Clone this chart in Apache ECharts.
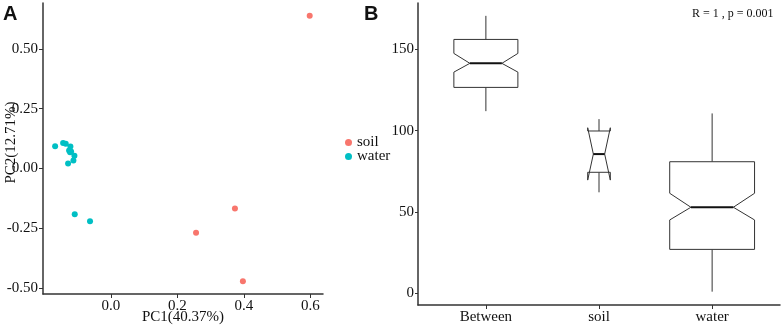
<!DOCTYPE html>
<html>
<head>
<meta charset="utf-8">
<script src="https://cdn.jsdelivr.net/npm/echarts@6/dist/echarts.min.js"></script>
<style>
html, body { margin: 0; padding: 0; background: #fff; }
#main { width: 782px; height: 326px; }
</style>
</head>
<body>
<div id="main"></div>
<script>
// panel A: PCoA scores
var soilPC1 = [0.598, 0.373, 0.397, 0.256];
var soilPC2 = [0.639, -0.167, -0.472, -0.269];
var waterPC1 = [-0.168, -0.144, -0.136, -0.122, -0.126, -0.123, -0.120, -0.110, -0.113, -0.129, -0.109, -0.063];
var waterPC2 = [0.093, 0.107, 0.103, 0.092, 0.075, 0.068, 0.071, 0.053, 0.033, 0.021, -0.191, -0.221];
var pcXTicks = [0.0, 0.2, 0.4, 0.6];
var pcYTicks = [-0.50, -0.25, 0.00, 0.25, 0.50];

// panel B: ANOSIM distance ranks, notched boxes
var groups = ['Between', 'soil', 'water'];
var whiskerLow = [112.0, 62.1, 1.0];
var hingeLow = [126.6, 74.4, 27.0];
var notchLow = [136.0, 69.6, 45.1];
var median = [141.4, 85.6, 52.9];
var notchHigh = [147.5, 101.8, 61.5];
var hingeHigh = [156.1, 99.8, 80.9];
var whiskerHigh = [170.6, 107.1, 110.6];
var rankTicks = [0, 50, 100, 150];

var boxWidth = [0.566, 0.2, 0.75];
var serif = 'Liberation Serif';
var lineCol = '#333';

var toXY = function (xs, ys) {
  return xs.map(function (x, i) { return [x, ys[i]]; });
};

var boxData = groups.map(function (g, i) {
  return [i + 1, whiskerLow[i], hingeLow[i], notchLow[i], median[i], notchHigh[i], hingeHigh[i], whiskerHigh[i]];
});

var axisCommon = {
  axisLine: { show: true, onZero: false, lineStyle: { color: lineCol, width: 1.5 } },
  axisTick: { show: true, length: 4, lineStyle: { color: lineCol, width: 1 } },
  splitLine: { show: false }
};
var labelFont = { fontFamily: serif, fontSize: 15, color: '#111' };

var chart = echarts.init(document.getElementById('main'));
chart.setOption({
  animation: false,
  grid: [
    { left: 43, top: 3, width: 280, height: 291, containLabel: false, outerBoundsMode: 'none' },
    { left: 418, top: 3, width: 362, height: 302, containLabel: false, outerBoundsMode: 'none' }
  ],
  legend: {
    data: ['soil', 'water'],
    orient: 'vertical',
    left: 340,
    top: 130,
    icon: 'circle',
    itemWidth: 7,
    itemHeight: 7,
    itemGap: -1,
    textStyle: labelFont
  },
  xAxis: [
    Object.assign({
      gridIndex: 0, type: 'value', min: -0.2045, max: 0.638,
      name: 'PC1(40.37%)', nameLocation: 'middle', nameGap: 16, nameMoveOverlap: false,
      nameTextStyle: labelFont,
      axisLabel: Object.assign({
        customValues: pcXTicks, margin: 5,
        formatter: function (v) { return v.toFixed(1); }
      }, labelFont)
    }, axisCommon, { axisTick: Object.assign({ customValues: pcXTicks }, axisCommon.axisTick) }),
    Object.assign({
      gridIndex: 1, type: 'value', min: 0.4, max: 3.6,
      axisLabel: Object.assign({
        customValues: [1, 2, 3], margin: 5,
        formatter: function (v) { return groups[Math.round(v) - 1]; }
      }, labelFont)
    }, axisCommon, { axisTick: Object.assign({ customValues: [1, 2, 3] }, axisCommon.axisTick) })
  ],
  yAxis: [
    Object.assign({
      gridIndex: 0, type: 'value', min: -0.525, max: 0.692,
      name: 'PC2(12.71%)', nameLocation: 'middle', nameGap: 24, nameRotate: 90, nameMoveOverlap: false,
      nameTextStyle: Object.assign({ padding: [0, 0, 0, 12] }, labelFont),
      axisLabel: Object.assign({
        customValues: pcYTicks, margin: 5,
        formatter: function (v) { return v.toFixed(2); }
      }, labelFont)
    }, axisCommon, { axisTick: Object.assign({ customValues: pcYTicks }, axisCommon.axisTick) }),
    Object.assign({
      gridIndex: 1, type: 'value', min: -7.2, max: 178.5,
      axisLabel: Object.assign({ customValues: rankTicks, margin: 4 }, labelFont)
    }, axisCommon, { axisTick: Object.assign({ customValues: rankTicks }, axisCommon.axisTick, { length: 3 }) })
  ],
  graphic: [
    { type: 'text', left: 3, top: 4, style: { text: 'A', font: 'bold 20px "Liberation Sans"', fill: '#111' } },
    { type: 'text', left: 364, top: 4, style: { text: 'B', font: 'bold 20px "Liberation Sans"', fill: '#111' } },
    { type: 'text', left: 692, top: 8, style: { text: 'R = 1 , p = 0.001', font: '12px "Liberation Serif"', fill: '#111' } }
  ],
  series: [
    {
      name: 'soil', type: 'scatter', xAxisIndex: 0, yAxisIndex: 0,
      symbolSize: 6, itemStyle: { color: '#F8766D', opacity: 1 },
      data: toXY(soilPC1, soilPC2)
    },
    {
      name: 'water', type: 'scatter', xAxisIndex: 0, yAxisIndex: 0,
      symbolSize: 6, itemStyle: { color: '#00BFC4', opacity: 1 },
      data: toXY(waterPC1, waterPC2)
    },
    {
      type: 'custom', xAxisIndex: 1, yAxisIndex: 1,
      encode: { x: 0, y: [1, 7] },
      data: boxData,
      renderItem: function (params, api) {
        var i = params.dataIndex;
        var x = api.value(0);
        var hw = boxWidth[i] / 2, nw = hw / 2;
        var p = function (dx, v) { return api.coord([x + dx, v]); };
        var wl = api.value(1), hl = api.value(2), nl = api.value(3), md = api.value(4),
            nh = api.value(5), hh = api.value(6), wh = api.value(7);
        var poly = [p(-hw, hh), p(-hw, nh), p(-nw, md), p(-hw, nl), p(-hw, hl),
                    p(hw, hl), p(hw, nl), p(nw, md), p(hw, nh), p(hw, hh)];
        var stroke = { stroke: lineCol, lineWidth: 1, fill: null };
        var a = p(0, wh), b = p(0, hh), c = p(0, hl), d = p(0, wl);
        var m1 = p(-nw, md), m2 = p(nw, md);
        return {
          type: 'group',
          children: [
            { type: 'line', shape: { x1: a[0], y1: a[1], x2: b[0], y2: b[1] }, style: stroke },
            { type: 'line', shape: { x1: c[0], y1: c[1], x2: d[0], y2: d[1] }, style: stroke },
            { type: 'polygon', shape: { points: poly }, style: { stroke: lineCol, lineWidth: 1, fill: '#fff' } },
            { type: 'line', shape: { x1: m1[0], y1: m1[1], x2: m2[0], y2: m2[1] }, style: { stroke: '#111', lineWidth: 2 } }
          ]
        };
      }
    }
  ]
});
</script>
</body>
</html>
